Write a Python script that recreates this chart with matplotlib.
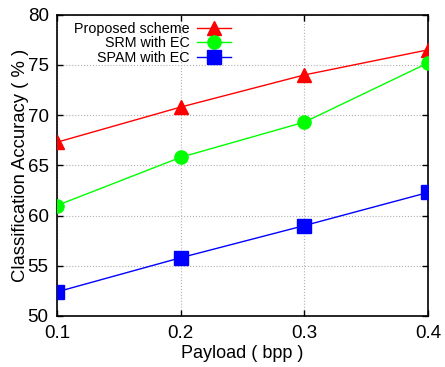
import matplotlib
matplotlib.use("Agg")
import matplotlib.pyplot as plt

# --- datos ---
payload = [0.1, 0.2, 0.3, 0.4]
proposed = [67.3, 70.8, 74.0, 76.5]
srm_ec = [61.0, 65.8, 69.3, 75.2]
spam_ec = [52.4, 55.8, 59.0, 62.3]

plt.rcParams['font.family'] = ['Liberation Sans', 'DejaVu Sans']

fig, ax = plt.subplots(figsize=(4.45, 3.67), dpi=100)
fig.subplots_adjust(left=0.128, right=0.962, top=0.96, bottom=0.139)

ax.plot(payload, proposed, color='#ff0000', lw=1, marker='^', ms=10,
        label='Proposed scheme', zorder=3)
ax.plot(payload, srm_ec, color='#00ff00', lw=1, marker='o', ms=9.5,
        markeredgecolor='#00ff00', label='SRM with EC', zorder=3)
ax.plot(payload, spam_ec, color='#0000ff', lw=1, marker='s', ms=9.5,
        label='SPAM with EC', zorder=3)

ax.set_xlim(0.1, 0.4)
ax.set_ylim(50, 80)
ax.set_xticks(payload)
ax.set_yticks(range(50, 81, 5))
ax.tick_params(direction='in', top=True, right=True, labelsize=13.5,
               length=4, width=1)
ax.tick_params(axis='x', pad=6.5)
ax.tick_params(axis='y', pad=6)
ax.grid(True, linestyle=':', color='#b0b0b0', lw=0.8)
for s in ax.spines.values():
    s.set_linewidth(1.2)

ax.set_xlabel('Payload ( bpp )', fontsize=13, labelpad=2)
ax.set_ylabel('Classification Accuracy ( % )', fontsize=13.3, labelpad=-1)

leg = ax.legend(loc='upper right', markerfirst=False, frameon=False,
                fontsize=10.3, handlelength=2.4, handletextpad=0.5,
                labelspacing=0.02, borderpad=0, borderaxespad=0,
                bbox_to_anchor=(0.469, 0.975))
for t in leg.get_texts():
    t.set_ha('right')
leg._legend_box.align = 'right'

plt.savefig('out.png', dpi=100)
